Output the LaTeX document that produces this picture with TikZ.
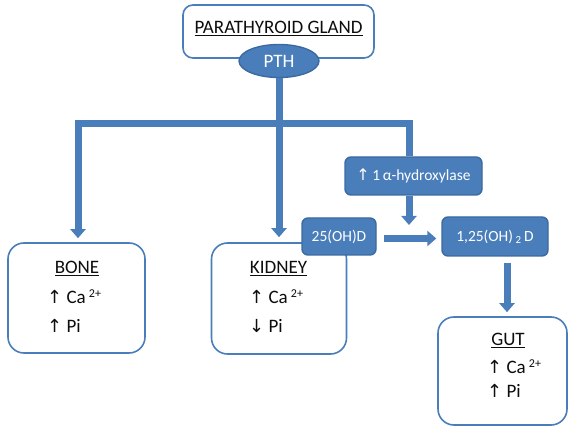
\documentclass[tikz,border=0pt]{standalone}
\usepackage{fontspec}
\setmainfont{Carlito}
\newfontfamily\arrfont{DejaVu Sans}
\usetikzlibrary{shapes.geometric,arrows.meta}
\definecolor{pblue}{HTML}{4A7EBB}
\definecolor{pdark}{HTML}{3B6AA0}
\definecolor{ptext}{HTML}{0D0D0D}
\newcommand{\myup}{{\arrfont\fontsize{18}{18}\selectfont ↑}}
\newcommand{\mydn}{{\arrfont\fontsize{18}{18}\selectfont ↓}}
\newcommand{\mycasup}{Ca\,\raisebox{0.3em}{\fontsize{12}{12}\selectfont 2+}}
\newcommand{\myul}[1]{\setbox0\hbox{#1}\rlap{\rule[-3pt]{\wd0}{1.3pt}}\box0}
\begin{document}
\begin{tikzpicture}[x=1pt,y=-1pt,
  outline/.style={draw=pblue, line width=1.6pt, fill=white, rounded corners=16pt, inner sep=0pt},
  darkbox/.style={draw=pdark, line width=1.4pt, fill=pblue, rounded corners=6pt, inner sep=0pt, text=white, font=\fontsize{15.5}{16}\selectfont},
  conn/.style={draw=pblue, line width=7pt},
  tipped/.style={-{Triangle[width=15pt,length=9pt]}},
  lbl/.style={text=ptext, font=\fontsize{19}{20}\selectfont, inner sep=0pt},
]
\useasboundingbox (0,0) rectangle (572,427);

% boxes
\node[outline, rounded corners=10pt, minimum width=191pt, minimum height=53pt] (gland) at (278.5,31.5) {};
\node[lbl, anchor=base] (glandt) at (278.5,33.5) {\myul{PARATHYROID GLAND}};
\node[ellipse, draw=pdark, fill=pblue, line width=1.4pt, minimum width=80pt, minimum height=33pt, inner sep=0pt, text=white, font=\fontsize{19}{20}\selectfont] (pth) at (279,61) {PTH};

\node[outline, minimum width=137pt, minimum height=110pt] (bone) at (76.5,298) {};
\node[outline, minimum width=135pt, minimum height=111pt] (kidney) at (279,298.5) {};
\node[outline, minimum width=129pt, minimum height=108pt] (gut) at (502.5,371) {};

\node[darkbox, minimum width=137pt, minimum height=38pt] (alpha) at (413.5,176) {{\arrfont\fontsize{16}{16}\selectfont ↑}\,1\,α-hydroxylase};
\node[darkbox, minimum width=74pt, minimum height=37pt] (ohd) at (339,236.5) {25(OH)D};
\node[darkbox, minimum width=106pt, minimum height=39pt] (d125) at (495,236.5) {1,25(OH)\,\textsubscript{2}\,D};

% texts
\node[lbl, anchor=base] (bonet) at (77,273) {\myul{BONE}};
\node[lbl, anchor=base west] (boneca) at (47,303) {\myup\ \mycasup};
\node[lbl, anchor=base west] (bonepi) at (47,332) {\myup\ Pi};

\node[lbl, anchor=base] (kidt) at (278.5,273) {\myul{KIDNEY}};
\node[lbl, anchor=base west] (kidca) at (249,303) {\myup\ \mycasup};
\node[lbl, anchor=base west] (kidpi) at (249,332) {\mydn\ Pi};

\node[lbl, anchor=base] (gutt) at (508,345) {\myul{GUT}};
\node[lbl, anchor=base west] (gutca) at (487,373) {\myup\ \mycasup};
\node[lbl, anchor=base west] (gutpi) at (487,397) {\myup\ Pi};

% connectors
\coordinate (jl) at (78,124);
\coordinate (jr) at (409,124);
\coordinate (atip) at (409,225);
\draw[conn, tipped, shorten >=5pt] (pth.south) -- (kidney.north);
\draw[conn, tipped, shorten >=4pt] (jr |- alpha.north) -- (jr) -- (jl) -- (jl |- bone.north);
\draw[conn, tipped] (jr |- alpha.south) -- (atip);
\draw[conn, tipped, shorten <=7pt, shorten >=5pt] ([yshift=-2pt]ohd.east) -- ([yshift=-2pt]d125.west);
\draw[conn, tipped, shorten <=6pt, shorten >=4pt] ([xshift=12pt]d125.south) -- ([xshift=4.5pt]gut.north);
\end{tikzpicture}
\end{document}
